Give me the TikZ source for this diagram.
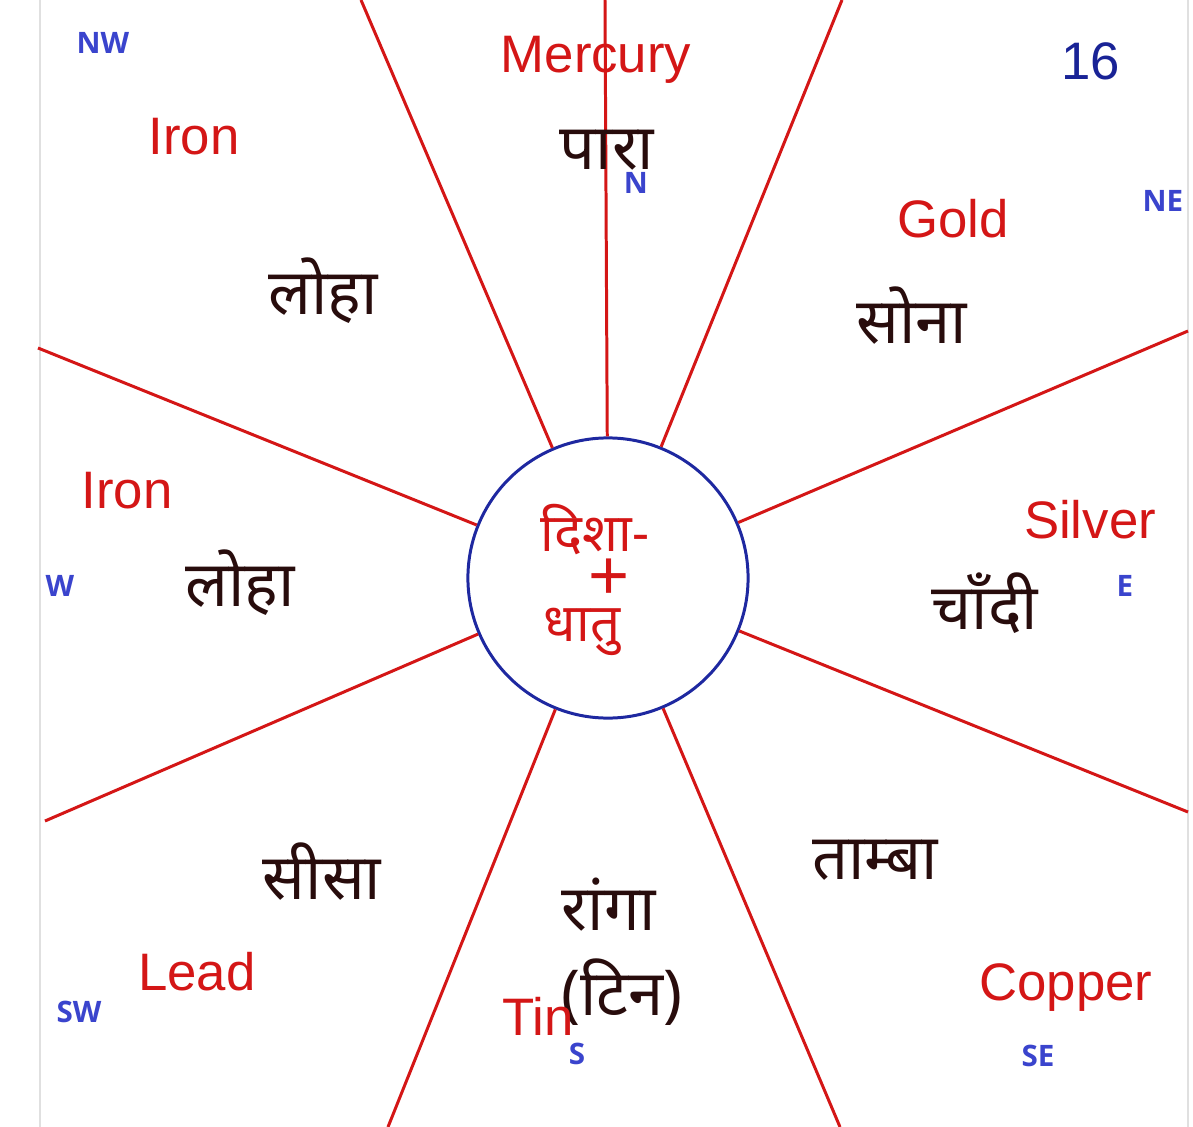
\documentclass[tikz,border=0pt]{standalone}
\usepackage{fontspec}
\setmainfont{Liberation Sans}
\newfontfamily\hindi[Script=Devanagari]{Noto Sans}
\newfontfamily\dirfont{Open Sans}
\definecolor{metalred}{RGB}{212,22,22}
\definecolor{inkbrown}{RGB}{40,12,12}
\definecolor{dirblue}{RGB}{58,68,205}
\definecolor{ringblue}{RGB}{30,40,160}
\definecolor{pagenum}{RGB}{25,35,150}
\begin{document}
\begin{tikzpicture}[x=0.01cm,y=-0.01cm,
  ray/.style={draw=metalred,line width=0.85pt},
  en/.style={text=metalred,font=\fontsize{15}{18}\selectfont,anchor=base,inner sep=0pt},
  hi/.style={text=inkbrown,font=\hindi\fontsize{18}{22}\selectfont,inner sep=0pt},
  mid/.style={text=metalred,font=\hindi\fontsize{15}{18}\selectfont,inner sep=0pt},
  dir/.style={text=dirblue,font=\dirfont\bfseries\fontsize{8.4}{10}\selectfont,inner sep=0pt}]
\fill[white] (0,0) rectangle (1193,1127);
\useasboundingbox (0,0) rectangle (1193,1127);
\draw[black!12,line width=0.4pt] (40,0)--(40,1127) (1188,0)--(1188,1127);
\node[circle,draw=ringblue,line width=0.85pt,minimum size=2.8cm,inner sep=0pt] (hub) at (608,578) {};
\foreach \n/\x/\y in {1/605/0,2/361/0,3/842/0,4/1188/331,5/1188/812,6/840/1127,7/388/1127,8/45/821,9/38/348}{
  \coordinate (end\n) at (\x,\y);
  \draw[ray] (hub)--(end\n);
}
\node[mid] (disha) at (595,530) {दिशा-};
\node[text=metalred,font=\fontsize{20}{22}\selectfont,inner sep=0pt] (plus) at (609,579) {+};
\node[mid] (dhatu) at (582,632) {धातु};
\node[en] (mercury) at (596,73) {Mercury};
\node[hi] (para) at (607,150) {पारा};
\node[en] (gold) at (953,238) {Gold};
\node[hi] (sona) at (912,316) {सोना};
\node[en] (silver) at (1090,538) {Silver};
\node[hi] (chandi) at (985,603) {चाँदी};
\node[hi] (tamba) at (875,860) {ताम्बा};
\node[en] (copper) at (1066,1000) {Copper};
\node[hi] (ranga) at (609,905) {रांगा};
\node[hi] (tin) at (622,992) {(टिन)};
\node[en] (tineng) at (538,1035) {Tin};
\node[hi] (sisa) at (322,872) {सीसा};
\node[en] (lead) at (197,990) {Lead};
\node[en] (iron2) at (127,508) {Iron};
\node[hi] (loha2) at (240,583) {लोहा};
\node[en] (iron1) at (194,154) {Iron};
\node[hi] (loha1) at (323,291) {लोहा};
\node[text=pagenum,font=\fontsize{15}{18}\selectfont,anchor=base,inner sep=0pt] (page) at (1091,80) {16};
\node[dir] (nw) at (103,43) {NW};
\node[dir] (north) at (636,183) {N};
\node[dir] (ne) at (1163,201) {NE};
\node[dir] (west) at (60,586) {W};
\node[dir] (east) at (1125,586) {E};
\node[dir] (sw) at (79,1012) {SW};
\node[dir] (south) at (577,1054) {S};
\node[dir] (se) at (1038,1056) {SE};
\end{tikzpicture}
\end{document}
